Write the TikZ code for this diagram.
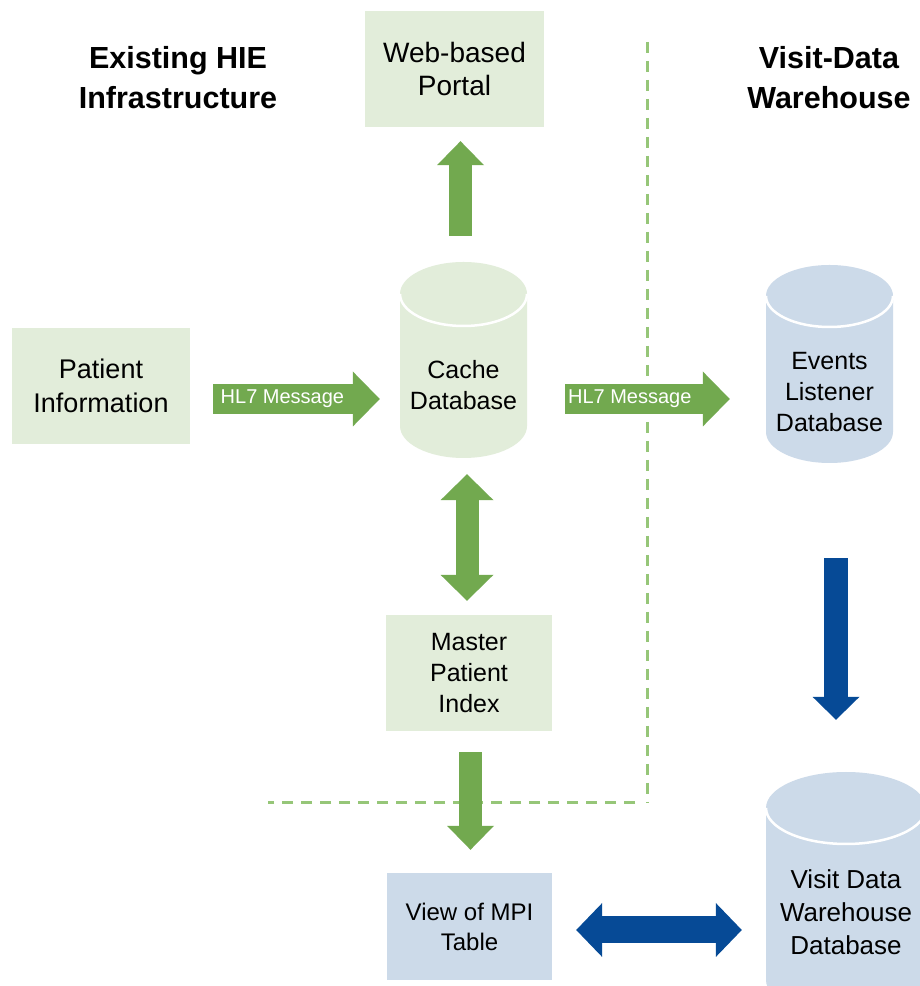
\documentclass[tikz,border=0pt]{standalone}
\usepackage{fontspec}
\setmainfont{Liberation Sans}
\usetikzlibrary{arrows.meta}
\definecolor{gbox}{RGB}{226,237,218}
\definecolor{garr}{RGB}{114,169,79}
\definecolor{bbox}{RGB}{204,218,233}
\definecolor{barr}{RGB}{6,74,150}
\definecolor{gdash}{RGB}{150,198,120}
\newcommand\drawcyl[7]{%
  \node[cylarea, minimum width={2*#5}, minimum height={#3-#4}] (#1) at (#2,{(#3+#4)/2}) {};
  \fill[#7] (#2-#5,#3-#6) -- (#2-#5,#4+#6)
    arc[start angle=180, end angle=360, x radius=#5, y radius=#6]
    -- (#2+#5,#3-#6)
    arc[start angle=0, end angle=180, x radius=#5, y radius=#6] -- cycle;
  \draw[white, line width=2.5pt] (#2-#5,#3-#6)
    arc[start angle=180, end angle=360, x radius=#5, y radius=#6];
}
\begin{document}
\begin{tikzpicture}[x=1pt,y=1pt,
  box/.style={rectangle, inner sep=0pt, align=center, font=\fontsize{26}{33}\selectfont},
  gboxs/.style={box, fill=gbox},
  bboxs/.style={box, fill=bbox},
  titletext/.style={align=center, inner sep=0pt, font=\fontsize{30.5}{40}\selectfont\bfseries},
  cylarea/.style={rectangle, inner sep=0pt},
  cyltext/.style={align=center, inner sep=0pt, font=\fontsize{25}{31}\selectfont},
  garrow/.style={draw=garr, line width=23pt},
  hlarrow/.style={draw=garr, line width=30pt, -{Triangle[width=55pt, length=27pt, line width=0pt]}},
  hltext/.style={text=white, inner sep=0pt, font=\fontsize{20}{22}\selectfont},
  barrow/.style={draw=barr, line width=24pt},
  sep/.style={draw=gdash, line width=3pt, dash pattern=on 11pt off 8pt}
]
\useasboundingbox (0,0) rectangle (920,986);
\clip (0,0) rectangle (920,986);
\fill[white] (0,0) rectangle (920,986);

% separators
\coordinate (sepTop) at (647,944);
\coordinate (sepCorner) at (647,183);
\coordinate (sepLeft) at (268,183);
\draw[sep] (sepTop) -- (sepCorner);
\draw[sep] ([xshift=-12pt]sepCorner) -- (sepLeft);

% titles
\node[titletext] (titleL) at (178,908) {Existing HIE\\Infrastructure};
\node[titletext] (titleR) at (829,908) {Visit-Data\\Warehouse};

% boxes
\node[gboxs, minimum width=179pt, minimum height=116pt, font=\fontsize{28}{33}\selectfont] (portal) at (454.5,917) {Web-based\\Portal};
\node[gboxs, minimum width=178pt, minimum height=116pt, font=\fontsize{27}{34}\selectfont] (patient) at (101,600) {Patient\\Information};
\node[gboxs, minimum width=166pt, minimum height=116pt, font=\fontsize{25}{31}\selectfont] (mpi) at (469,313) {Master\\Patient\\Index};
\node[bboxs, minimum width=165pt, minimum height=107pt, font=\fontsize{24}{30}\selectfont] (view) at (469.5,59.5) {View of MPI\\Table};

% cylinders
\drawcyl{cache}{463.5}{724}{528}{63.5}{32}{gbox}
\drawcyl{events}{829.5}{721}{523}{63.5}{31}{bbox}
\drawcyl{visit}{846}{214}{-30}{80}{36}{bbox}
\node[cyltext] (cachetxt) at (463.5,601) {Cache\\Database};
\node[cyltext] (eventstxt) at (829.5,594) {Events\\Listener\\Database};
\node[cyltext, font=\fontsize{26}{33}\selectfont] (visittxt) at (846,74) {Visit Data\\Warehouse\\Database};

% green connectors
\draw[garrow, -{Triangle[width=47pt, length=24pt, line width=0pt]},
      shorten <=26pt, shorten >=14pt]
  ([xshift=-3pt]cache.north) -- ([xshift=-3pt]cache.north |- portal.south);
\draw[garrow, {Triangle[width=53pt, length=26pt, line width=0pt]}-{Triangle[width=53pt, length=26pt, line width=0pt]},
      shorten <=16pt, shorten >=14pt]
  ([xshift=3.5pt]cache.south) -- ([xshift=3.5pt]cache.south |- mpi.north);
\draw[garrow, -{Triangle[width=47pt, length=24pt, line width=0pt]},
      shorten <=21pt, shorten >=23pt]
  ([xshift=1.5pt]mpi.south) -- ([xshift=1.5pt]mpi.south |- view.north);
\draw[hlarrow, shorten <=23pt, shorten >=20pt]
  ([yshift=-13pt]patient.east) -- ([yshift=-13pt]patient.east -| cache.west)
  node[hltext, pos=0.44] (hl7a) {HL7 Message};
\draw[hlarrow, shorten <=38pt, shorten >=36pt]
  ([yshift=-13pt]patient.east -| cache.east) -- ([yshift=-13pt]patient.east -| events.west)
  node[hltext, pos=0.43] (hl7b) {HL7 Message};

% blue connectors
\draw[barrow, -{Triangle[width=47pt, length=23pt, line width=0pt]},
      shorten <=95pt, shorten >=52pt]
  ([xshift=6.5pt]events.south) -- ([xshift=6.5pt]events.south |- visit.north);
\draw[draw=barr, line width=27pt,
      {Triangle[width=54pt, length=26pt, line width=0pt]}-{Triangle[width=54pt, length=26pt, line width=0pt]},
      shorten <=24pt, shorten >=24pt]
  ([yshift=-3.5pt]view.east) -- ([yshift=-3.5pt]view.east -| visit.west);
\end{tikzpicture}
\end{document}
